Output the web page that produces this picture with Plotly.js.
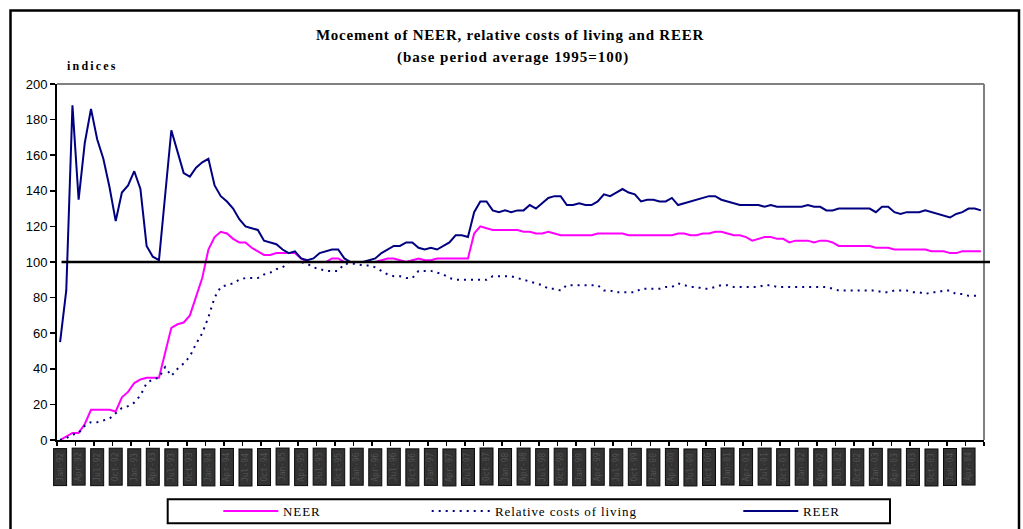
<!DOCTYPE html>
<html><head><meta charset="utf-8">
<script src="https://cdn.plot.ly/plotly-3.0.1.min.js"></script>
<style>html,body{margin:0;padding:0;background:#fff;}#chart{width:1023px;height:529px;}</style>
</head><body><div id="chart"></div>
<script>
// quarterly tick labels (one every 3 monthly observations)
const tickLabels = [
 "Jan-92","Apr-92","Jul-92","Oct-92","Jan-93","Apr-93","Jul-93","Oct-93",
 "Jan-94","Apr-94","Jul-94","Oct-94","Jan-95","Apr-95","Jul-95","Oct-95",
 "Jan-96","Apr-96","Jul-96","Oct-96","Jan-97","Apr-97","Jul-97","Oct-97",
 "Jan-98","Apr-98","Jul-98","Oct-98","Jan-99","Apr-99","Jul-99","Oct-99",
 "Jan-00","Apr-00","Jul-00","Oct-00","Jan-01","Apr-01","Jul-01","Oct-01",
 "Jan-02","Apr-02","Jul-02","Oct-02","Jan-03","Apr-03","Jul-03","Oct-03",
 "Jan-04","Apr-04"
];

const neer = [
 0,2,4,4,9,17,17,17,17,16,
 24,27,32,34,35,35,35,49,63,65,
 66,70,80,91,107,114,117,116,113,111,
 111,108,106,104,104,105,105,105,105,102,
 100,100,100,100,102,102,100,100,100,100,
 100,100,101,102,102,101,100,101,102,101,
 101,102,102,102,102,102,102,116,120,119,
 118,118,118,118,118,117,117,116,116,117,
 116,115,115,115,115,115,115,116,116,116,
 116,116,115,115,115,115,115,115,115,115,
 116,116,115,115,116,116,117,117,116,115,
 115,114,112,113,114,114,113,113,111,112,
 112,112,111,112,112,111,109,109,109,109,
 109,109,108,108,108,107,107,107,107,107,
 107,106,106,106,105,105,106,106,106,106
];

const costOfLiving = [
 0,1,3,4,8,10,10,11,12,15,
 18,19,21,25,32,34,35,41,36,40,
 43,47,54,60,69,80,86,87,88,90,
 91,91,91,93,94,96,97,100,100,100,
 99,97,96,95,95,95,99,99,99,98,
 98,97,95,93,92,92,91,91,95,95,
 95,94,93,91,90,90,90,90,90,90,
 92,92,92,92,91,90,89,88,87,85,
 85,84,87,87,87,87,87,87,84,84,
 83,83,83,83,85,85,85,85,86,86,
 88,87,86,86,85,85,86,87,87,86,
 86,86,86,86,87,87,86,86,86,86,
 86,86,86,86,86,85,84,84,84,84,
 84,84,84,83,83,84,84,84,83,83,
 82,83,83,84,84,82,82,81,81,81
];

const reer = [
 55,84,188,135,167,186,169,158,142,123,
 139,143,151,141,109,103,101,138,174,162,
 150,148,153,156,158,143,137,134,130,124,
 120,119,118,112,111,110,107,105,106,102,
 101,102,105,106,107,107,102,100,100,100,
 101,102,105,107,109,109,111,111,108,107,
 108,107,109,111,115,115,114,128,134,134,
 129,128,129,128,129,129,132,130,133,136,
 137,137,132,132,133,132,132,134,138,137,
 139,141,139,138,134,135,135,134,134,136,
 132,133,134,135,136,137,137,135,134,133,
 132,132,132,132,131,132,131,131,131,131,
 131,132,131,131,129,129,130,130,130,130,
 130,130,128,131,131,128,127,128,128,128,
 129,128,127,126,125,127,128,130,130,129
];

const baseLevel = 100;
const seriesNames = ["NEER", "Relative costs of living", "REER"];
const seriesColors = ["#FF00FF", "#000080", "#000080"];
const seriesDash = ["solid", "2px,5px", "solid"];

const xIdx = reer.map((_, i) => i);
const perTick = 3;

const traces = [neer, costOfLiving, reer].map((ys, s) => ({
  type: "scatter", mode: "lines", x: xIdx, y: ys, name: seriesNames[s],
  line: {color: seriesColors[s], width: 2, dash: seriesDash[s]},
  showlegend: false, hoverinfo: "skip"
}));

// tick marks between groups of 3 categories (Excel style)
const tickVals = [];
for (let v = -0.5; v <= xIdx.length - 0.5 + 1e-9; v += perTick) tickVals.push(v);

const L = 57, W = 927, T = 84, H = 356;
const px = x => (x - L) / W;
const py = y => (T + H - y) / H;
const spaced = (t, s) => '<span style="letter-spacing:' + s + 'px">' + t + '</span>';

const annotations = [];
tickLabels.forEach((t, k) => {
  annotations.push({
    x: k * perTick, xref: "x", y: py(448), yref: "paper",
    xanchor: "center", yanchor: "top", showarrow: false,
    text: t, textangle: -90, width: 34, height: 10,
    bgcolor: "#333333", bordercolor: "#0a0a0a", borderwidth: 1, borderpad: 1,
    font: {family: "DejaVu Sans Mono", size: 8, color: "#525252"}
  });
});
annotations.push({
  x: px(513), y: py(57), xref: "paper", yref: "paper", xanchor: "center", yanchor: "middle",
  showarrow: false, text: "<b>" + spaced("(base period average 1995=100)", 1.0) + "</b>",
  font: {family: "Liberation Serif", size: 15, color: "#000"}
});
annotations.push({
  x: px(65), y: py(66), xref: "paper", yref: "paper", xanchor: "left", yanchor: "middle",
  showarrow: false, text: "<b>" + spaced("indices", 2.2) + "</b>",
  font: {family: "Liberation Serif", size: 12, color: "#000"}
});

const shapes = [
  // outer frame
  {type: "rect", xref: "paper", yref: "paper", x0: px(10.5), x1: px(1019), y0: py(570), y1: py(10.5),
   line: {color: "#000", width: 2.5}, fillcolor: "rgba(0,0,0,0)", layer: "below"},
  // plot area top/right border (grey)
  {type: "line", xref: "paper", yref: "paper", x0: 0, x1: 1, y0: 1, y1: 1, line: {color: "#808080", width: 2}},
  {type: "line", xref: "paper", yref: "paper", x0: 1, x1: 1, y0: 0, y1: 1, line: {color: "#808080", width: 2}},
  // base level line
  {type: "line", xref: "paper", yref: "y", x0: px(61.5), x1: px(990), y0: baseLevel, y1: baseLevel,
   line: {color: "#000", width: 2.5}},
  // legend box
  {type: "rect", xref: "paper", yref: "paper", x0: px(167.7), x1: px(890), y0: py(523.3), y1: py(499.3),
   line: {color: "#000", width: 2}, fillcolor: "rgba(0,0,0,0)"}
];

const legendSamples = [[223.3, 278.3], [431.7, 490], [743.3, 798.3]];
legendSamples.forEach((p, s) => {
  shapes.push({type: "line", xref: "paper", yref: "paper", x0: px(p[0]), x1: px(p[1]), y0: py(511), y1: py(511),
    line: {color: seriesColors[s], width: 2, dash: seriesDash[s]}});
  annotations.push({x: px(p[1] + 3), y: py(511), xref: "paper", yref: "paper", xanchor: "left", yanchor: "middle",
    showarrow: false, text: spaced(seriesNames[s], 0.9),
    font: {family: "Liberation Serif", size: 13, color: "#000"}});
});

const layout = {
  width: 1023, height: 529,
  margin: {l: L, r: 1023 - L - W, t: T, b: 529 - T - H, pad: 0},
  paper_bgcolor: "#fff", plot_bgcolor: "#fff",
  title: {text: "<b>" + spaced("Mocement of NEER, relative costs of living and REER", 0.78) + "</b>",
    x: 510 / 1023, xref: "container", xanchor: "center", y: 1 - 35 / 529, yref: "container", yanchor: "middle",
    font: {family: "Liberation Serif", size: 15, color: "#000"}},
  xaxis: {range: [-0.5, xIdx.length - 0.5], tickmode: "array", tickvals: tickVals, showticklabels: false,
    ticks: "outside", ticklen: 4, tickwidth: 1.5, tickcolor: "#000",
    showline: true, linecolor: "#000", linewidth: 2, showgrid: false, zeroline: false, fixedrange: true},
  yaxis: {range: [0, 200], dtick: 20, tick0: 0, ticks: "outside", ticklen: 5, tickwidth: 1.5, tickcolor: "#000",
    showline: true, linecolor: "#000", linewidth: 2, showgrid: false, zeroline: false,
    tickfont: {family: "Liberation Sans", size: 13, color: "#000"}, fixedrange: true},
  showlegend: false,
  shapes: shapes, annotations: annotations
};

Plotly.newPlot("chart", traces, layout, {displayModeBar: false, staticPlot: true});
</script></body></html>
